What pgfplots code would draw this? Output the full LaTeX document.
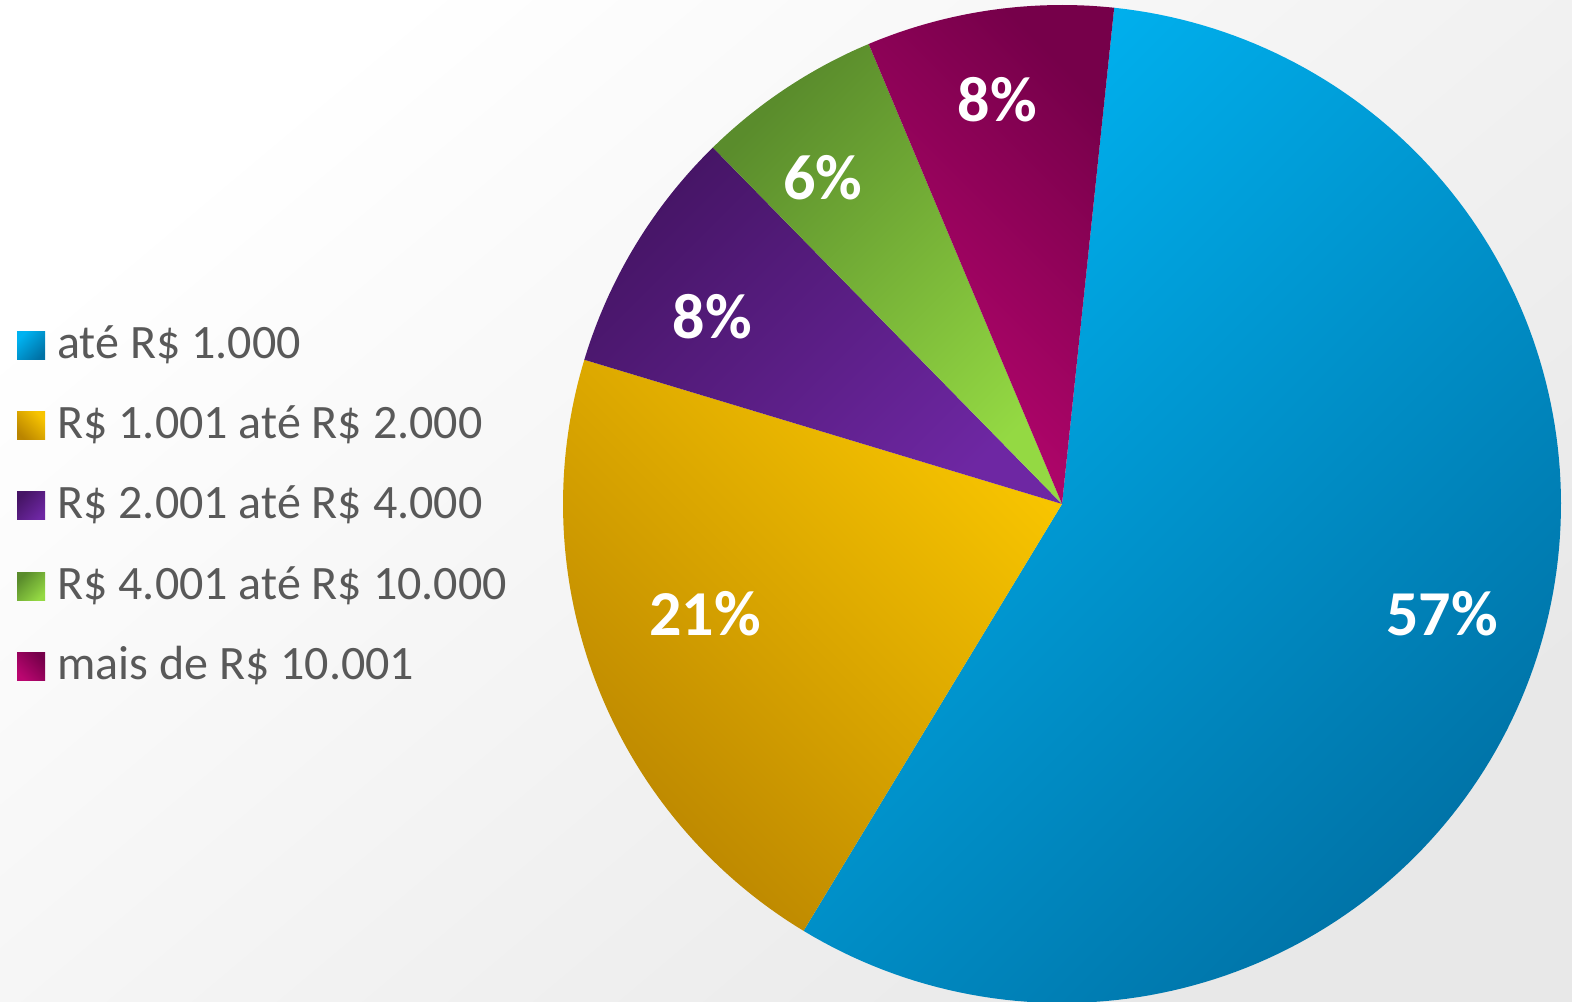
\documentclass[border=0pt]{standalone}
\usepackage{pgfplots}
\pgfplotsset{compat=1.18}
\usepackage{fontspec}
\setmainfont{Carlito}
\definecolor{bl1}{HTML}{00B2F0}
\definecolor{bl2}{HTML}{0072A6}
\definecolor{ye1}{HTML}{F7C400}
\definecolor{ye2}{HTML}{BA8500}
\definecolor{pu1}{HTML}{461566}
\definecolor{pu2}{HTML}{6E27A3}
\definecolor{gr1}{HTML}{5A8C2C}
\definecolor{gr2}{HTML}{94D943}
\definecolor{ma1}{HTML}{76004A}
\definecolor{ma2}{HTML}{BA0670}
\definecolor{txt}{HTML}{595959}
\begin{document}
\begin{tikzpicture}[x=0.5pt,y=0.5pt]
\path[use as bounding box] (0,0) rectangle (1572,1001);
\shade[top color=white, middle color=white, bottom color=black!9, shading angle=40] (0,0) rectangle (1572,1001);
% slice values (percent): 57, 21, 8, 6, 8 ; start at 84 deg, clockwise, 3.6 deg per percent
\begin{axis}[at={(531pt,248.5pt)}, anchor=center, width=499pt, height=499pt, scale only axis,
  xmin=-1, xmax=1, ymin=-1, ymax=1, hide axis, clip=false]
% ate R$ 1.000 : 57%  (84 -> -121.2)
\addplot[data cs=polar, draw=none, top color=bl1, bottom color=bl2, shading angle=45, domain=-121.2:84, samples=160] (x,1) -- (axis cs:0,0) -- cycle;
% R$ 1.001 ate R$ 2.000 : 21%  (-121.2 -> -196.8)
\addplot[data cs=polar, draw=none, top color=ye1, bottom color=ye2, shading angle=-45, domain=-196.8:-121.2, samples=80] (x,1) -- (axis cs:0,0) -- cycle;
% R$ 2.001 ate R$ 4.000 : 8%  (163.2 -> 134.4)
\addplot[data cs=polar, draw=none, top color=pu1, bottom color=pu2, shading angle=45, domain=134.4:163.2, samples=40] (x,1) -- (axis cs:0,0) -- cycle;
% R$ 4.001 ate R$ 10.000 : 6%  (134.4 -> 112.8)
\addplot[data cs=polar, draw=none, top color=gr1, bottom color=gr2, shading angle=45, domain=112.8:134.4, samples=30] (x,1) -- (axis cs:0,0) -- cycle;
% mais de R$ 10.001 : 8%  (112.8 -> 84)
\addplot[data cs=polar, draw=none, top color=ma1, bottom color=ma2, shading angle=-45, domain=84:112.8, samples=40] (x,1) -- (axis cs:0,0) -- cycle;
\tikzset{lab/.style={text=white, font=\bfseries\fontsize{32}{33}\selectfont, inner sep=0}}
\node[lab] at (axis cs:0.762,-0.220) {57\%};
\node[lab] at (axis cs:-0.715,-0.220) {21\%};
\node[lab] at (axis cs:-0.701,0.375) {8\%};
\node[lab] at (axis cs:-0.479,0.653) {6\%};
\node[lab] at (axis cs:-0.130,0.810) {8\%};
\end{axis}
\tikzset{leg/.style={anchor=base west, text=txt, font=\fontsize{24}{28}\selectfont, inner sep=0}}
\shade[top color=bl1, bottom color=bl2, shading angle=45] (17,641) rectangle (45,669);
\node[leg] at (57,642) {até R\$ 1.000};
\shade[top color=ye1, bottom color=ye2, shading angle=-45] (17,561) rectangle (45,589);
\node[leg] at (57,562) {R\$ 1.001 até R\$ 2.000};
\shade[top color=pu1, bottom color=pu2, shading angle=45] (17,481) rectangle (45,509);
\node[leg] at (57,482) {R\$ 2.001 até R\$ 4.000};
\shade[top color=gr1, bottom color=gr2, shading angle=45] (17,400) rectangle (45,428);
\node[leg] at (57,401) {R\$ 4.001 até R\$ 10.000};
\shade[top color=ma1, bottom color=ma2, shading angle=-45] (17,320) rectangle (45,348);
\node[leg] at (57,321) {mais de R\$ 10.001};
\end{tikzpicture}
\end{document}
